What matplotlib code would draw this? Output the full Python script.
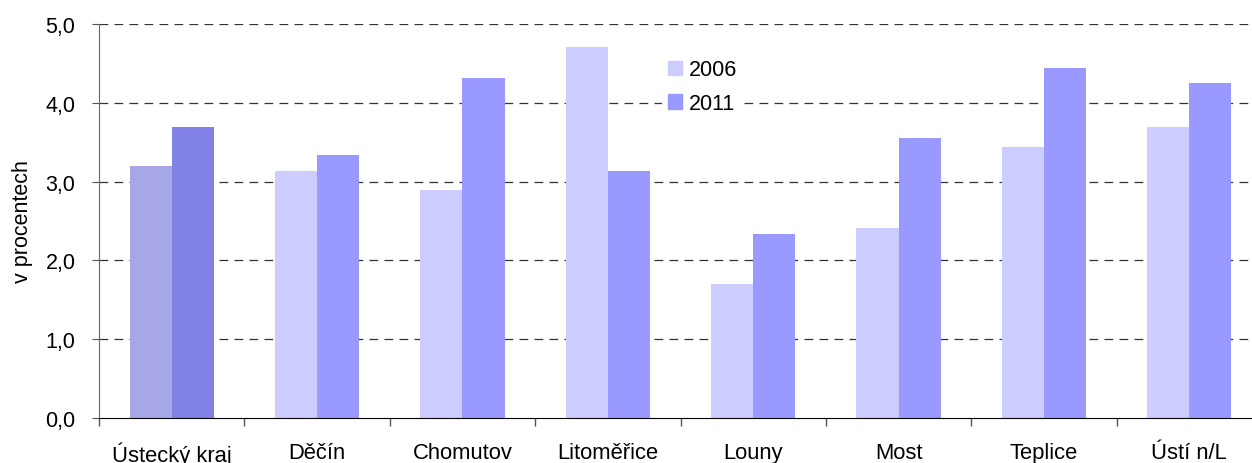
import matplotlib
matplotlib.use("Agg")
import matplotlib.pyplot as plt
import numpy as np
from matplotlib.patches import Patch

categories = ["Ústecký kraj", "Děčín", "Chomutov", "Litoměřice", "Louny", "Most", "Teplice", "Ústí n/L"]
v2006 = [3.20, 3.13, 2.89, 4.71, 1.70, 2.41, 3.44, 3.69]
v2011 = [3.69, 3.34, 4.31, 3.13, 2.33, 3.55, 4.44, 4.25]
series_labels = ["2006", "2011"]
yticks = [0.0, 1.0, 2.0, 3.0, 4.0, 5.0]

plt.rcParams['font.family'] = ['Liberation Sans', 'DejaVu Sans']
FS = 15.5

fig = plt.figure(figsize=(12.52, 4.64), dpi=100)
W, H = 1252, 464
ax = fig.add_axes([99 / W, 45 / H, 1163 / W, 394 / H])

x = np.arange(len(categories))
bw = 0.29
c06 = ["#A7A7E6"] + ["#CCCCFF"] * (len(categories) - 1)
c11 = ["#8282E6"] + ["#9999FF"] * (len(categories) - 1)
ax.bar(x - bw / 2, v2006, bw, color=c06, zorder=3, linewidth=0)
ax.bar(x + bw / 2, v2011, bw, color=c11, zorder=3, linewidth=0)

ax.set_xlim(-0.5, len(categories) - 0.5)
ax.set_ylim(0, 5)
ax.set_yticks(yticks)
ax.set_yticklabels([f"{t:.1f}".replace(".", ",") for t in yticks], fontsize=FS)
for t in yticks[1:]:
    ax.axhline(t, color="#333333", lw=0.9, dashes=(7, 5), zorder=1)

ax.set_xticks(x)
ax.set_xticklabels(categories, fontsize=15.8)
ax.tick_params(axis="x", which="major", length=0, pad=17)
ax.set_xticks(np.arange(len(categories) + 1) - 0.5, minor=True)
ax.tick_params(axis="x", which="minor", length=6, color="#555555", width=1)
ax.tick_params(axis="y", length=5, color="#555555", pad=12)

for s in ["top", "right"]:
    ax.spines[s].set_visible(False)
ax.spines["left"].set_color("#666666")
ax.spines["bottom"].set_color("black")
ax.spines["bottom"].set_zorder(5)

ax.set_ylabel("v procentech", fontsize=FS, labelpad=9)

handles = [Patch(color="#CCCCFF"), Patch(color="#9999FF")]
leg = ax.legend(handles, series_labels, loc="upper left",
                bbox_to_anchor=((662 - 99) / 1163, (419 - 54) / 394),
                frameon=True, fontsize=FS, handlelength=0.65, handleheight=0.65,
                handletextpad=0.3, labelspacing=0.58, borderpad=0.3,
                borderaxespad=0)
leg.get_frame().set_edgecolor("none")
leg.get_frame().set_facecolor("white")
leg.get_frame().set_alpha(1)
leg.set_zorder(6)

fig.savefig("out.png", dpi=100)
